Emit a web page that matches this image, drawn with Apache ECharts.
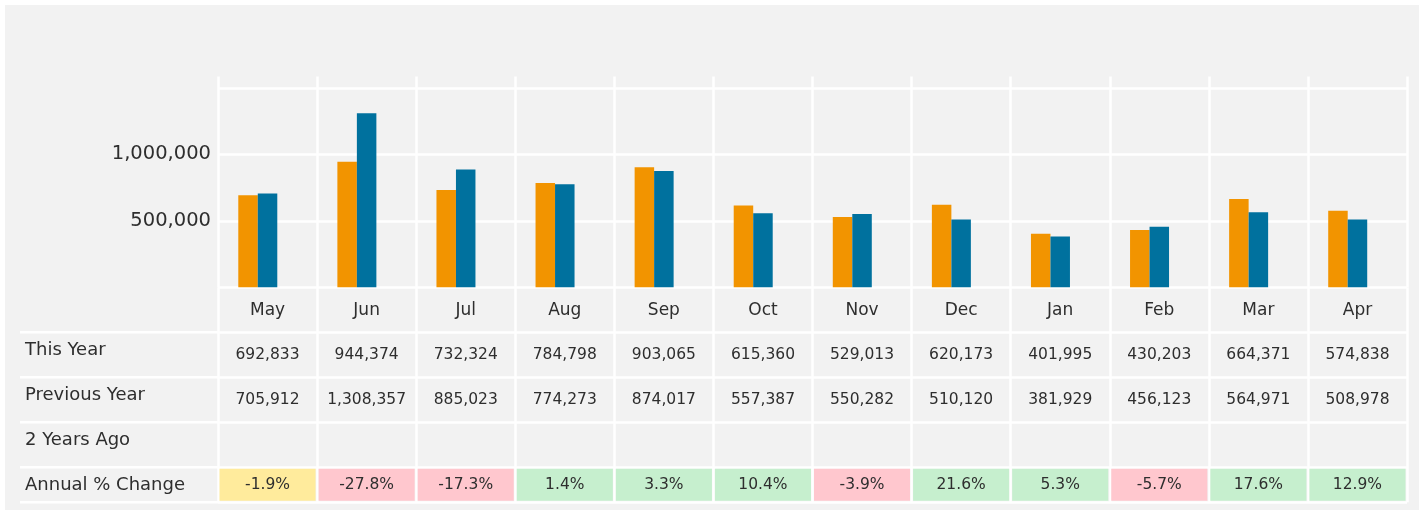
<!DOCTYPE html>
<html>
<head>
<meta charset="utf-8">
<script src="https://cdn.jsdelivr.net/npm/echarts@6/dist/echarts.min.js"></script>
<style>
  html, body { margin: 0; padding: 0; background: #ffffff; }
  #chart { width: 1424px; height: 515px; }
</style>
</head>
<body>
<div id="chart"></div>
<script>
// ---------------- data ----------------
const months = ['May', 'Jun', 'Jul', 'Aug', 'Sep', 'Oct', 'Nov', 'Dec', 'Jan', 'Feb', 'Mar', 'Apr'];
const thisYear = [692833, 944374, 732324, 784798, 903065, 615360, 529013, 620173, 401995, 430203, 664371, 574838];
const previousYear = [705912, 1308357, 885023, 774273, 874017, 557387, 550282, 510120, 381929, 456123, 564971, 508978];
const twoYearsAgo = [null, null, null, null, null, null, null, null, null, null, null, null];
const annualChange = [-1.9, -27.8, -17.3, 1.4, 3.3, 10.4, -3.9, 21.6, 5.3, -5.7, 17.6, 12.9];
const rowNames = ['This Year', 'Previous Year', '2 Years Ago', 'Annual % Change'];
const yTickValues = [0, 500000, 1000000, 1500000];

// ---------------- styling ----------------
const FONT = 'DejaVu Sans';
const TEXT = '#2e2e2e';
const LINE = '#ffffff';
const LW = 2.5;
const ORANGE = '#f29400';
const BLUE = '#00719e';
const TABLE_MAX = 4.78; // last row is shorter than the others

function changeColor(v) {
  if (v > 0) return '#c6efce';
  if (v >= -2) return '#ffeb9c';
  return '#ffc7ce';
}
function fmt(v) { return v == null ? '' : v.toLocaleString('en-US'); }

// table cells built from the arrays
const cells = [];
[thisYear, previousYear, twoYearsAgo].forEach(function (arr, r) {
  arr.forEach(function (v, c) {
    cells.push({ value: [c, r + 1], text: fmt(v), fill: null });
  });
});
annualChange.forEach(function (v, c) {
  cells.push({ value: [c, 4], text: v.toFixed(1) + '%', fill: changeColor(v) });
});
const heads = rowNames.map(function (n, i) { return { value: [0, i + 1], name: n }; });

function renderCell(params, api) {
  const cell = cells[params.dataIndex];
  const col = api.value(0), row = api.value(1);
  const bw = api.size([1, 0])[0];
  const p = api.coord([col, row]);
  const cx = p[0], top = p[1];
  const bottom = api.coord([col, Math.min(row + 1, TABLE_MAX)])[1];
  const g = 1.5;
  const children = [];
  if (cell.fill) {
    children.push({
      type: 'rect',
      shape: { x: cx - bw / 2 + g, y: top + g, width: bw - 2 * g, height: bottom - top - 2 * g },
      style: { fill: cell.fill }
    });
  }
  children.push({
    type: 'text',
    style: {
      text: cell.text, x: cx, y: (top + bottom) / 2,
      align: 'center', verticalAlign: 'middle',
      fill: TEXT, fontSize: 15.5, fontFamily: FONT
    }
  });
  return { type: 'group', children: children };
}

function renderHead(params, api) {
  const h = heads[params.dataIndex];
  const row = api.value(1);
  const top = api.coord([0, row])[1];
  const bottom = api.coord([0, Math.min(row + 1, TABLE_MAX)])[1];
  const x0 = params.coordSys.x;
  const children = [
    { type: 'line', shape: { x1: x0 - 198, y1: top, x2: x0, y2: top }, style: { stroke: LINE, lineWidth: LW } },
    {
      type: 'text',
      style: {
        text: h.name, x: x0 - 193, y: top + 18.5,
        align: 'left', verticalAlign: 'middle',
        fill: TEXT, fontSize: 18, fontFamily: FONT
      }
    }
  ];
  if (row + 1 > TABLE_MAX) {
    children.push({ type: 'line', shape: { x1: x0 - 198, y1: bottom, x2: x0, y2: bottom }, style: { stroke: LINE, lineWidth: LW } });
  }
  return { type: 'group', children: children };
}

const chart = echarts.init(document.getElementById('chart'), null, { renderer: 'canvas' });

chart.setOption({
  backgroundColor: '#ffffff',
  animation: false,
  graphic: {
    elements: [{
      type: 'rect', z: -100, silent: true,
      shape: { x: 5, y: 5, width: 1414, height: 505 },
      style: { fill: '#f2f2f2' }
    }]
  },
  grid: [
    { left: 218, right: 17, top: 76.5, height: 210.8, containLabel: false },
    { left: 218, right: 17, top: 287.3, height: 215, containLabel: false }
  ],
  xAxis: [
    {
      type: 'category', gridIndex: 0, data: months, boundaryGap: true,
      axisLine: { show: false }, axisTick: { show: false },
      axisLabel: { color: TEXT, fontSize: 17, fontFamily: FONT, margin: 15 },
      splitLine: { show: true, lineStyle: { color: LINE, width: LW } }
    },
    {
      type: 'category', gridIndex: 1, data: months, boundaryGap: true,
      axisLine: { show: false }, axisTick: { show: false },
      axisLabel: { show: false },
      splitLine: { show: true, lineStyle: { color: LINE, width: LW } }
    }
  ],
  yAxis: [
    {
      type: 'value', gridIndex: 0, min: yTickValues[0], max: 1585000, interval: yTickValues[1] - yTickValues[0],
      axisLine: { show: false }, axisTick: { show: false },
      axisLabel: {
        color: TEXT, fontSize: 19.5, fontFamily: FONT, margin: 7,
        showMinLabel: false, showMaxLabel: false,
        formatter: function (v) {
          return (v === yTickValues[1] || v === yTickValues[2]) ? v.toLocaleString('en-US') : '';
        }
      },
      splitLine: { show: true, showMaxLine: false, lineStyle: { color: LINE, width: LW } }
    },
    {
      type: 'value', gridIndex: 1, inverse: true, min: 0, max: TABLE_MAX, interval: 1,
      axisLine: { show: false }, axisTick: { show: false }, axisLabel: { show: false },
      splitLine: { show: true, showMinLine: false, lineStyle: { color: LINE, width: LW } }
    }
  ],
  series: [
    {
      name: 'This Year', type: 'bar', xAxisIndex: 0, yAxisIndex: 0,
      data: thisYear, barWidth: 19.5, barGap: '0%',
      itemStyle: { color: ORANGE }
    },
    {
      name: 'Previous Year', type: 'bar', xAxisIndex: 0, yAxisIndex: 0,
      data: previousYear, barWidth: 19.5, barGap: '0%',
      itemStyle: { color: BLUE }
    },
    {
      name: '2 Years Ago', type: 'bar', xAxisIndex: 0, yAxisIndex: 0,
      data: twoYearsAgo, barWidth: 19.5, barGap: '0%',
      itemStyle: { color: '#7f7f7f' }
    },
    {
      name: 'table', type: 'custom', xAxisIndex: 1, yAxisIndex: 1,
      data: cells, encode: { x: 0, y: 1 }, renderItem: renderCell, silent: true, z: 3
    },
    {
      name: 'rowHeads', type: 'custom', xAxisIndex: 1, yAxisIndex: 1,
      data: heads, encode: { x: 0, y: 1 }, renderItem: renderHead, silent: true, z: 3
    }
  ]
});
</script>
</body>
</html>
